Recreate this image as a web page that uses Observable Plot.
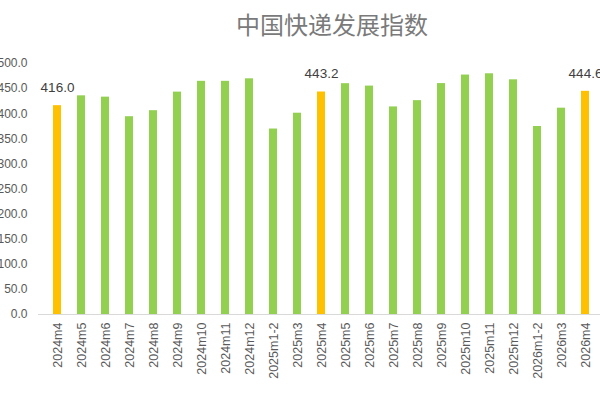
<!DOCTYPE html>
<html>
<head>
<meta charset="utf-8">
<script src="https://cdn.jsdelivr.net/npm/d3@7"></script>
<script src="https://cdn.jsdelivr.net/npm/@observablehq/plot@0.6"></script>
<style>
  html, body { margin: 0; padding: 0; background: #fff; width: 600px; height: 400px; overflow: hidden; }
  #title { height: 50px; position: relative; font-family: "Noto Sans CJK SC", sans-serif; font-size: 24px; color: #7a7a7a; }
  #title span { position: absolute; left: 236px; top: 9px; line-height: 30px; white-space: nowrap; }
  #chart svg { display: block; }
</style>
</head>
<body>
<div id="title"><span>中国快递发展指数</span></div>
<div id="chart"></div>
<script>
const categories = ["2024m4","2024m5","2024m6","2024m7","2024m8","2024m9","2024m10","2024m11","2024m12","2025m1-2","2025m3","2025m4","2025m5","2025m6","2025m7","2025m8","2025m9","2025m10","2025m11","2025m12","2026m1-2","2026m3","2026m4"];
const values = [416.0, 435.6, 433.0, 394.0, 406.0, 443.0, 464.5, 464.5, 469.5, 369.5, 401.0, 443.2, 459.8, 455.0, 413.5, 426.0, 460.0, 477.0, 479.5, 467.5, 374.5, 411.0, 444.6];
const highlighted = ["2024m4", "2025m4", "2026m4"];
const yTicks = [0, 50, 100, 150, 200, 250, 300, 350, 400, 450, 500];

const data = categories.map((c, i) => ({cat: c, value: values[i], hi: highlighted.includes(c)}));
const labelled = data.filter(d => d.hi);

const chart = Plot.plot({
  width: 600,
  height: 350,
  marginLeft: 30,
  marginRight: -12,
  marginTop: 13,
  marginBottom: 86,
  style: {fontFamily: "'Liberation Sans', Arial, sans-serif", background: "#fff", overflow: "visible"},
  x: {domain: categories, padding: 0.66, label: null},
  y: {domain: [0, 500], label: null},
  marks: [
    Plot.barY(data, {x: "cat", y: "value", fill: d => d.hi ? "#FFC000" : "#92D050"}),
    Plot.ruleY([0], {stroke: "#d9d9d9", strokeWidth: 1, insetLeft: 8}),
    Plot.text(labelled, {x: "cat", y: "value", text: d => d.value.toFixed(1), dy: -18, fill: "#404040", fontSize: 13.5}),
    Plot.axisY(yTicks, {tickSize: 0, tickPadding: 3, tickFormat: d3.format(".1f"), fontSize: 12, color: "#595959", label: null}),
    Plot.axisX({tickSize: 0, tickPadding: 8, tickRotate: -90, fontSize: 12.5, color: "#595959", label: null})
  ]
});
document.getElementById("chart").appendChild(chart);
</script>
</body>
</html>
